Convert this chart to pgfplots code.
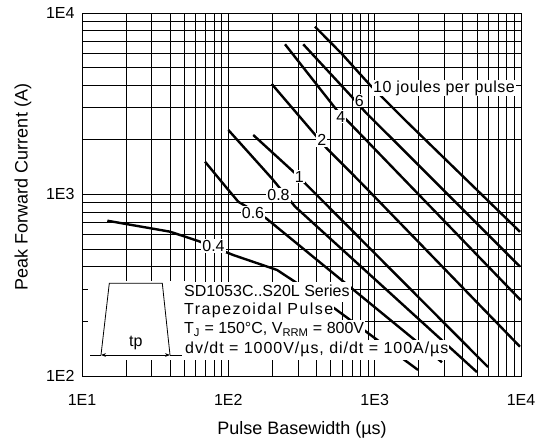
\documentclass[border=0pt]{standalone}
\usepackage{fontspec}
\setmainfont{Liberation Sans}
\usepackage{pgfplots}
\pgfplotsset{compat=1.18}
\usetikzlibrary{arrows.meta}
\newcommand{\lblfont}{\fontsize{16}{18}\selectfont}
\begin{document}
\begin{tikzpicture}
\useasboundingbox (0pt,0pt) rectangle (545pt,443pt);
\fill[white] (0pt,0pt) rectangle (545pt,443pt);
\begin{axis}[
  at={(82pt,67pt)}, anchor=south west,
  scale only axis, width=439pt, height=363pt,
  xmode=log, ymode=log,
  xmin=10, xmax=10000, ymin=100, ymax=10000,
  xtick={10,100,1000,10000}, xticklabels={\mbox{1E1},\mbox{1E2},\mbox{1E3},\mbox{1E4}},
  ytick={100,1000,10000}, yticklabels={\mbox{1E2},\mbox{1E3},\mbox{1E4}},
  grid=both,
  major grid style={black, line width=0.8pt},
  minor grid style={black, line width=0.8pt},
  axis line style={black, line width=0.8pt},
  major tick length=0pt, minor tick length=0pt,
  tick label style={font=\lblfont},
  xticklabel style={yshift=-15pt},
  yticklabel style={xshift=-4pt},
]
\addplot[black, line width=2.4pt] coordinates {(391,8405) (598,5943) (929,4010) (1146,3388) (1611,2573) (3827,1306) (9840,623)};
\addplot[black, line width=2.4pt] coordinates {(325,6722) (697,3459) (859,2858) (7380,505) (9840,401)};
\addplot[black, line width=2.4pt] coordinates {(244,6722) (550,2921) (661,2518) (9940,262)};
\addplot[black, line width=2.4pt] coordinates {(198,4063) (402,2083) (470,1797) (794,1176) (9840,145)};
\addplot[black, line width=2.4pt] coordinates {(148,2127) (286,1309) (5952,112)};
\addplot[black, line width=2.4pt] coordinates {(100,2267) (198,1228) (286,857) (5005,105)};
\addplot[black, line width=2.4pt] coordinates {(69.3,1516) (97.9,1082) (117,912) (181,740) (2885,119)};
\addplot[black, line width=2.4pt] coordinates {(14.9,717) (39.9,624) (62.4,554) (108,464) (215,384) (472,253) (1978,108)};
\end{axis}
% curve labels
\begin{scope}[every node/.style={fill=white, inner sep=1pt, font=\lblfont}]
\node[anchor=west] at (372pt,355pt) {\addfontfeature{LetterSpace=3}10 joules per pulse};
\node at (359.3pt,342.3pt) {6};
\node at (340.7pt,326.3pt) {4};
\node at (321.7pt,303pt) {2};
\node at (299.3pt,266.3pt) {1};
\node at (278.5pt,248pt) {0.8};
\node at (253pt,230pt) {0.6};
\node at (213.5pt,197pt) {0.4};
\end{scope}
% inset
\fill[white] (88pt,83pt) rectangle (185pt,162pt);
\begin{scope}[every node/.style={fill=white, anchor=base west, inner xsep=1pt, inner ysep=2pt, text height=12pt, text depth=4pt, font=\lblfont}]
\node at (183pt,146.5pt) {SD1053C..S20L Series};
\node at (183pt,128.5pt) {\addfontfeature{LetterSpace=9}Trapezoidal Pulse};
\node at (183pt,109pt) {T\textsubscript{J} = 150°C, V\textsubscript{RRM} = 800V};
\node at (184pt,89pt) {\addfontfeature{LetterSpace=6}dv/dt = 1000V/µs, di/dt = 100A/µs};
\end{scope}
\draw[black, line width=0.8pt] (101pt,88pt) -- (109.3pt,159.7pt) -- (162.3pt,159.7pt) -- (170pt,88pt);
\draw[black, line width=0.8pt] (90pt,88pt) -- (101pt,88pt);
\draw[black, line width=0.8pt] (170pt,88pt) -- (182pt,88pt);
\draw[black, line width=0.8pt, {Stealth[length=5pt]}-{Stealth[length=5pt]}] (101pt,88pt) -- (170pt,88pt);
\node[font=\lblfont] at (135.8pt,100pt) {tp};
% axis labels
\node[font=\fontsize{18}{20}\selectfont] at (302pt,13pt) {Pulse Basewidth (µs)};
\node[font=\fontsize{18}{20}\selectfont, rotate=90] at (23pt,256pt) {Peak Forward Current (A)};
\end{tikzpicture}
\end{document}
